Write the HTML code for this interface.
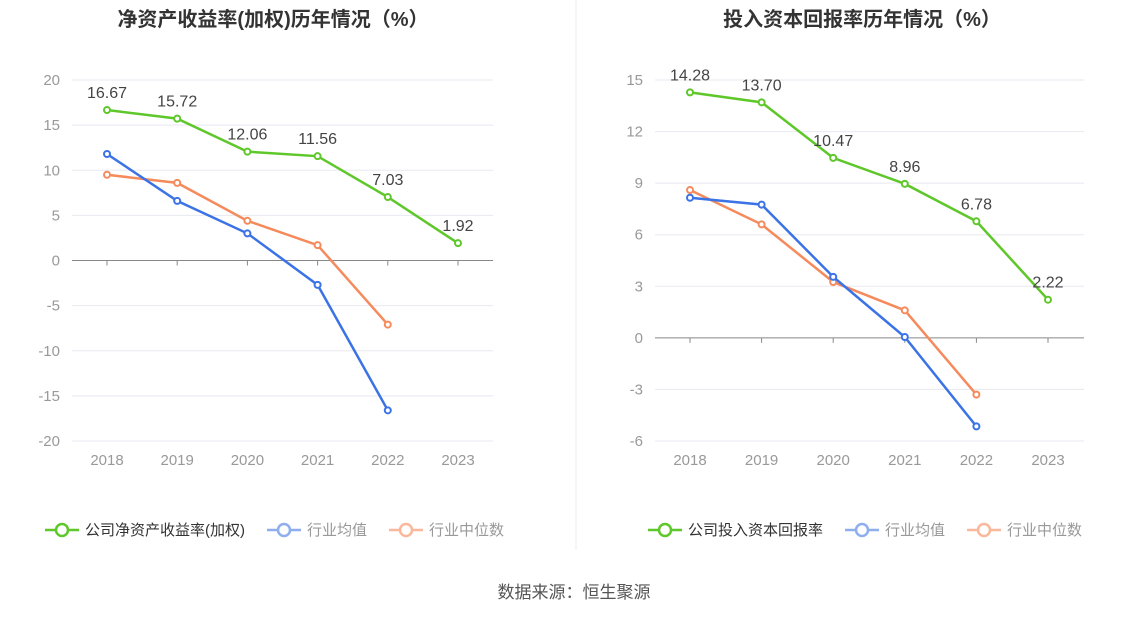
<!DOCTYPE html>
<html><head><meta charset="utf-8"><style>
body{margin:0;background:#fff;font-family:"Liberation Sans","Noto Sans CJK SC",sans-serif;}
svg text{font-family:"Liberation Sans","Noto Sans CJK SC",sans-serif;}
</style></head><body>
<svg id="svg" width="1148" height="619" xmlns="http://www.w3.org/2000/svg">
<line x1="576" y1="0" x2="576" y2="550" stroke="#eee"/>
<text x="574" y="598" font-size="17" fill="#555" text-anchor="middle">数据来源：恒生聚源</text>
</svg>
<script>
const years=["2018","2019","2020","2021","2022","2023"];
const roeCompany=[16.67,15.72,12.06,11.56,7.03,1.92];
const roeAvg=[11.8,6.6,3.0,-2.7,-16.6];
const roeMed=[9.5,8.6,4.4,1.7,-7.1];
const roeTicks=[20,15,10,5,0,-5,-10,-15,-20];
const roicCompany=[14.28,13.70,10.47,8.96,6.78,2.22];
const roicAvg=[8.15,7.75,3.55,0.05,-5.15];
const roicMed=[8.6,6.6,3.25,1.6,-3.3];
const roicTicks=[15,12,9,6,3,0,-3,-6];
const svg=document.getElementById('svg');
const NS='http://www.w3.org/2000/svg';
function mk(tag,attrs,parent){const e=document.createElementNS(NS,tag);for(const k in attrs)e.setAttribute(k,attrs[k]);(parent||svg).appendChild(e);return e;}
function chart(cfg){
  const g=mk('g',{});
  
  
  const max=cfg.ticks[0],min=cfg.ticks[cfg.ticks.length-1];
  const y=v=>80+(max-v)/(max-min)*361;
  const x=i=>cfg.x0+i*cfg.step;
  const t=mk('text',{x:cfg.cx,y:26,'font-size':20,'font-weight':'bold',fill:'#333','text-anchor':'middle'},g);
  t.textContent=cfg.title;
  
  
  cfg.ticks.forEach(v=>{
    if(v!==0){const l=mk('line',{x1:cfg.l,x2:cfg.r,y1:y(v),y2:y(v),stroke:'#e8e8f0'},g);
      
      }
    const tx=mk('text',{x:cfg.l-12,y:y(v)+5,'font-size':15,fill:'#999','text-anchor':'end'},g);
    tx.textContent=v;
    
    
  });
  const ax=mk('line',{x1:cfg.l,x2:cfg.r,y1:y(0),y2:y(0),stroke:'#888'},g);
  
  
  years.forEach((yr,i)=>{
    mk('line',{x1:x(i),x2:x(i),y1:y(0),y2:y(0)+5,stroke:'#888'},g);
    const tx=mk('text',{x:x(i),y:465,'font-size':15,fill:'#999','text-anchor':'middle'},g);
    tx.textContent=yr;
    
    
  });
  const series=[[cfg.med,'#f58a5c','median-line'],[cfg.avg,'#3b73e6','average-line'],[cfg.comp,'#5ec72a','company-line']];
  series.forEach(([d,c,n])=>{
    const p=mk('polyline',{points:d.map((v,i)=>x(i)+','+y(v)).join(' '),fill:'none',stroke:c,'stroke-width':2.5},g);
    
    
    d.forEach((v,i)=>{const ci=mk('circle',{cx:x(i),cy:y(v),r:3,fill:'#fff',stroke:c,'stroke-width':2},g);
      
      });
  });
  cfg.comp.forEach((v,i)=>{const tx=mk('text',{x:x(i),y:y(v)-12,'font-size':16,fill:'#444','text-anchor':'middle'},g);
    tx.textContent=v.toFixed(2);
    
    });
  let lx=cfg.legX;
  [[cfg.legend,'#5ec72a',1],['行业均值','#8eaef0',0],['行业中位数','#f9b89c',0]].forEach(([lab,c,strong])=>{
    const lg=mk('g',{},g);
    
    
    mk('line',{x1:lx,x2:lx+34,y1:530,y2:530,stroke:c,'stroke-width':2.5},lg);
    mk('circle',{cx:lx+17,cy:530,r:6,fill:'#fff',stroke:c,'stroke-width':2.5},lg);
    const tx=mk('text',{x:lx+40,y:535,'font-size':15,fill:strong?'#333':'#999'},lg);
    tx.textContent=lab;
    lx+=40+tx.getComputedTextLength()+22;
  });
}
chart({name:'roe-chart',title:'净资产收益率(加权)历年情况（%）',cx:273,l:72,r:493,x0:107,step:70.2,ticks:roeTicks,comp:roeCompany,avg:roeAvg,med:roeMed,legend:'公司净资产收益率(加权)',legX:45});
chart({name:'roic-chart',title:'投入资本回报率历年情况（%）',cx:862,l:655,r:1084,x0:690,step:71.6,ticks:roicTicks,comp:roicCompany,avg:roicAvg,med:roicMed,legend:'公司投入资本回报率',legX:648});
</script>
</body></html>
